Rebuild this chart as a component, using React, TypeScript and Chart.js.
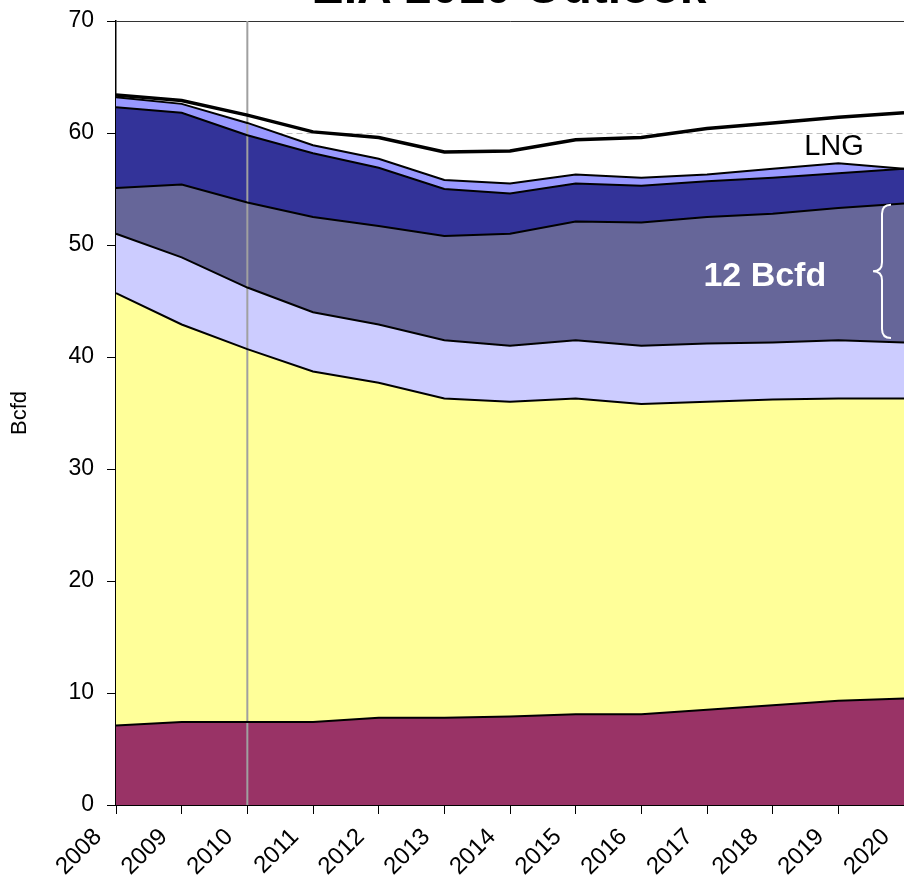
import React, { useEffect, useRef } from 'react';
import { Chart, registerables } from 'chart.js';

Chart.register(...registerables);

// Years on the x axis
const years = ['2008', '2009', '2010', '2011', '2012', '2013', '2014', '2015', '2016', '2017', '2018', '2019', '2020'];

// Layer thicknesses (Bcfd), bottom to top
const layerMaroon = [7.1, 7.4, 7.4, 7.4, 7.8, 7.8, 7.9, 8.1, 8.1, 8.5, 8.9, 9.3, 9.5];
const layerYellow = [38.6, 35.5, 33.3, 31.3, 29.9, 28.5, 28.1, 28.2, 27.7, 27.5, 27.3, 27.0, 26.8];
const layerLavender = [5.3, 6.0, 5.5, 5.3, 5.2, 5.2, 5.0, 5.2, 5.2, 5.2, 5.1, 5.2, 5.0];
const layerShale = [4.1, 6.5, 7.6, 8.5, 8.8, 9.3, 10.0, 10.6, 11.0, 11.3, 11.5, 11.8, 12.4];
const layerDarkBlue = [7.2, 6.4, 6.0, 5.7, 5.2, 4.2, 3.6, 3.4, 3.3, 3.2, 3.2, 3.1, 3.1];
const layerLightBlue = [0.9, 0.8, 1.1, 0.7, 0.8, 0.8, 0.9, 0.8, 0.7, 0.6, 0.8, 0.9, 0.0];
const layerLNG = [0.2, 0.3, 0.7, 1.2, 1.9, 2.5, 2.9, 3.1, 3.6, 4.1, 4.1, 4.1, 5.0];

const yTicks = { min: 0, max: 70, step: 10 };
const titleText = 'EIA 2010 Outlook';
const axisTitle = 'Bcfd';
const bandLabel = '12 Bcfd';
const lngLabel = 'LNG';
const markerYear = '2010';
const bandLabelPos = { x: 9.88, y: 47.2 };
const braceRange = { top: 53.6, bottom: 41.7 };
const lngLabelPos = { x: 10.48, y: 58.0 };

const FONT = '"Liberation Sans", Arial, sans-serif';

const overlayPlugin = {
  id: 'overlay',
  beforeDatasetsDraw(chart: any) {
    const { ctx, chartArea, scales } = chart;
    const x = scales.x.getPixelForValue(years.indexOf(markerYear));
    ctx.save();
    ctx.strokeStyle = '#a0a0a0';
    ctx.lineWidth = 2;
    ctx.beginPath();
    ctx.moveTo(x, chartArea.top);
    ctx.lineTo(x, chartArea.bottom);
    ctx.stroke();
    ctx.restore();
  },
  afterDatasetsDraw(chart: any) {
    const { ctx, chartArea, scales } = chart;
    const xs = scales.x;
    const ys = scales.y;
    ctx.save();
    // band label
    ctx.fillStyle = '#ffffff';
    ctx.font = `bold 34px ${FONT}`;
    ctx.textAlign = 'center';
    ctx.textBaseline = 'middle';
    ctx.fillText(bandLabel, xs.getPixelForValue(bandLabelPos.x), ys.getPixelForValue(bandLabelPos.y));
    // brace
    const top = ys.getPixelForValue(braceRange.top);
    const bot = ys.getPixelForValue(braceRange.bottom);
    const mid = (top + bot) / 2;
    const xr = chartArea.right - 13;
    const xsp = chartArea.right - 22;
    const xt = chartArea.right - 31;
    const r = 9;
    ctx.strokeStyle = '#ffffff';
    ctx.lineWidth = 2;
    ctx.beginPath();
    ctx.moveTo(xr, top);
    ctx.quadraticCurveTo(xsp, top, xsp, top + r);
    ctx.lineTo(xsp, mid - r);
    ctx.quadraticCurveTo(xsp, mid, xt, mid);
    ctx.quadraticCurveTo(xsp, mid, xsp, mid + r);
    ctx.lineTo(xsp, bot - r);
    ctx.quadraticCurveTo(xsp, bot, xr, bot);
    ctx.stroke();
    // LNG label
    ctx.fillStyle = '#000000';
    ctx.font = `29px ${FONT}`;
    ctx.textAlign = 'left';
    ctx.textBaseline = 'alphabetic';
    ctx.fillText(lngLabel, xs.getPixelForValue(lngLabelPos.x), ys.getPixelForValue(lngLabelPos.y));
    // title (cut off at top)
    ctx.font = `bold 48px ${FONT}`;
    ctx.textAlign = 'center';
    ctx.fillText(titleText, (chartArea.left + chartArea.right) / 2 - 1, 3);
    ctx.restore();
  },
};

export default function App() {
  const ref = useRef<HTMLCanvasElement | null>(null);

  useEffect(() => {
    if (!ref.current) return;
    const mk = (label: string, data: number[], bg: string, fill: any, bw = 2) => ({
      label,
      data,
      backgroundColor: bg,
      borderColor: '#000000',
      borderWidth: bw,
      fill,
      pointRadius: 0,
      pointHoverRadius: 0,
      tension: 0,
      stack: 'supply',
    });
    const chart = new Chart(ref.current, {
      type: 'line',
      data: {
        labels: years,
        datasets: [
          mk('Maroon', layerMaroon, '#993366', 'origin'),
          mk('Yellow', layerYellow, '#FFFF99', '-1'),
          mk('Lavender', layerLavender, '#CCCCFF', '-1'),
          mk('Shale', layerShale, '#666699', '-1'),
          mk('DarkBlue', layerDarkBlue, '#333399', '-1'),
          mk('LightBlue', layerLightBlue, '#9999FF', '-1'),
          mk('LNG', layerLNG, 'rgba(0,0,0,0)', false, 3.5),
        ],
      },
      options: {
        responsive: false,
        animation: false,
        devicePixelRatio: 1,
        layout: { autoPadding: false, padding: { top: 21, left: 0, right: 0, bottom: 0 } },
        plugins: {
          legend: { display: false },
          tooltip: { enabled: false },
          title: { display: false },
          filler: { drawTime: 'beforeDatasetsDraw' },
        },
        scales: {
          x: {
            type: 'category',
            offset: false,
            afterFit: (s: any) => {
              s.height = 81;
              s.paddingRight = 0;
              s.paddingLeft = 0;
              s.paddingTop = 0;
              s.paddingBottom = 0;
            },
            grid: {
              drawOnChartArea: false,
              tickLength: 9,
              tickColor: '#000000',
              color: '#000000',
            },
            border: { display: true, color: '#000000', width: 2 },
            ticks: {
              autoSkip: false,
              maxRotation: 45,
              minRotation: 45,
              padding: 9,
              labelOffset: -18,
              color: '#000000',
              font: { family: FONT, size: 24 },
            },
          },
          y: {
            stacked: true,
            min: yTicks.min,
            max: yTicks.max,
            afterFit: (s: any) => {
              s.width = 116;
              s.paddingTop = 0;
              s.paddingBottom = 0;
            },
            ticks: {
              stepSize: yTicks.step,
              padding: 13,
              color: '#000000',
              font: { family: FONT, size: 23 },
            },
            grid: {
              color: (c: any) => (c.tick && c.tick.value === yTicks.max ? '#333333' : '#c0c0c0'),
              lineWidth: 1,
              tickLength: 9,
              tickColor: '#000000',
            },
            border: {
              display: true,
              color: '#000000',
              width: 1.5,
              dash: (c: any) => (c.tick && c.tick.value === yTicks.max ? [] : [6, 4]),
            },
            title: {
              display: true,
              text: axisTitle,
              color: '#000000',
              font: { family: FONT, size: 22 },
              padding: { top: 7, bottom: 0 },
            },
          },
        },
      },
      plugins: [overlayPlugin],
    } as any);
    return () => chart.destroy();
  }, []);

  return (
    <div style={{ position: 'fixed', left: 0, top: 0, width: 904, height: 886, overflow: 'hidden', background: '#ffffff' }}>
      <canvas ref={ref} width={904} height={886} style={{ display: 'block' }} />
    </div>
  );
}
